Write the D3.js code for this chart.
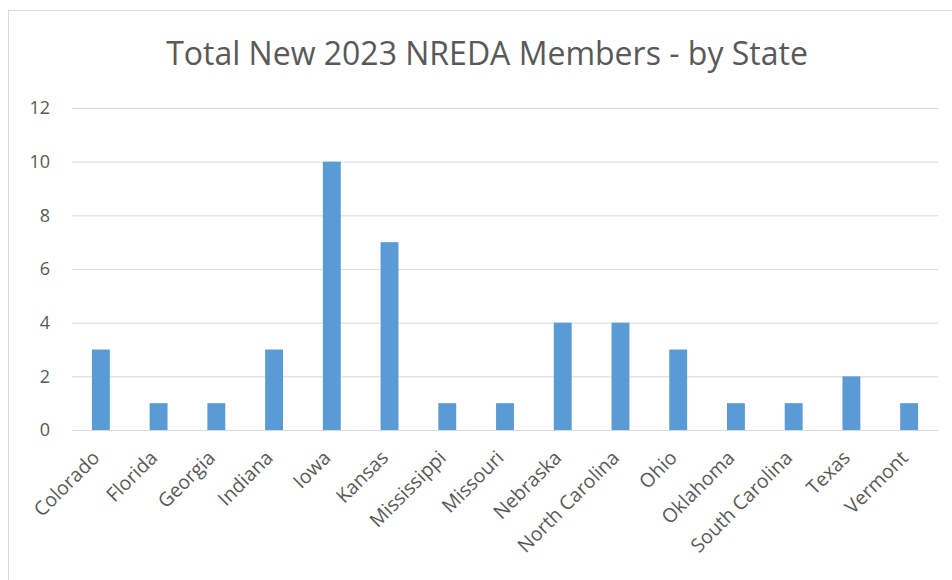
<!DOCTYPE html>
<html>
<head>
<meta charset="utf-8">
<script src="https://cdn.jsdelivr.net/npm/d3@7"></script>
<style>
  body { margin: 0; background: #fff; }
  text { font-family: "Open Sans", sans-serif; fill: #595959; }
</style>
</head>
<body>
<svg></svg>
<script>
var states = ["Colorado", "Florida", "Georgia", "Indiana", "Iowa", "Kansas", "Mississippi", "Missouri",
              "Nebraska", "North Carolina", "Ohio", "Oklahoma", "South Carolina", "Texas", "Vermont"];
var members = [3, 1, 1, 3, 10, 7, 1, 1, 4, 4, 3, 1, 1, 2, 1];
var yTicks = [0, 2, 4, 6, 8, 10, 12];

var width = 952;
var height = 580;
var plotLeft = 72, plotRight = 938, plotTop = 108, plotBottom = 430;

var svg = d3.select("svg")
	.attr("width", width)
	.attr("height", height);

// chart frame
svg.append("rect")
	.attr("x", 8.5)
	.attr("y", 10.5)
	.attr("width", width + 10)
	.attr("height", height)
	.attr("fill", "#fff")
	.attr("stroke", "#d9d9d9");

var Xscale = d3.scaleBand()
	.domain(states)
	.range([plotLeft, plotRight])
	.paddingInner(0.69)
	.paddingOuter(0.345);

var Yscale = d3.scaleLinear()
	.domain([0, 12])
	.range([plotBottom, plotTop]);

var yAxis = d3.axisLeft(Yscale)
	.tickValues(yTicks)
	.tickSize(-(plotRight - plotLeft))
	.tickPadding(22);

svg.append("g")
	.attr("transform", "translate(" + plotLeft + ",0)")
	.call(yAxis)
	.call(g => g.select(".domain").remove())
	.call(g => g.selectAll("line").attr("stroke", "#d9d9d9"))
	.call(g => g.selectAll("text").attr("font-size", "18px").style("fill", "#595959"));

svg.selectAll("rect.bar")
	.data(members)
	.enter()
		.append("rect")
		.attr("class", "bar")
		.attr("x", (d, i) => Xscale(states[i]))
		.attr("y", d => Yscale(d))
		.attr("width", Xscale.bandwidth())
		.attr("height", d => plotBottom - Yscale(d))
		.attr("fill", "#5b9bd5");

var xAxis = d3.axisBottom(Xscale)
	.tickSize(0)
	.tickPadding(0);

svg.append("g")
	.attr("transform", "translate(0," + plotBottom + ")")
	.call(xAxis)
	.call(g => g.select(".domain").remove())
	.call(g => g.selectAll("text")
		.attr("font-size", "19.5px")
		.style("fill", "#595959")
		.attr("text-anchor", "end")
		.attr("dy", "0")
		.attr("y", 0)
		.attr("transform", "translate(0,29) rotate(-45)"));

svg.append("text")
	.attr("x", 487)
	.attr("y", 65)
	.attr("text-anchor", "middle")
	.attr("font-size", "32px")
	.text("Total New 2023 NREDA Members - by State");
</script>
</body>
</html>
